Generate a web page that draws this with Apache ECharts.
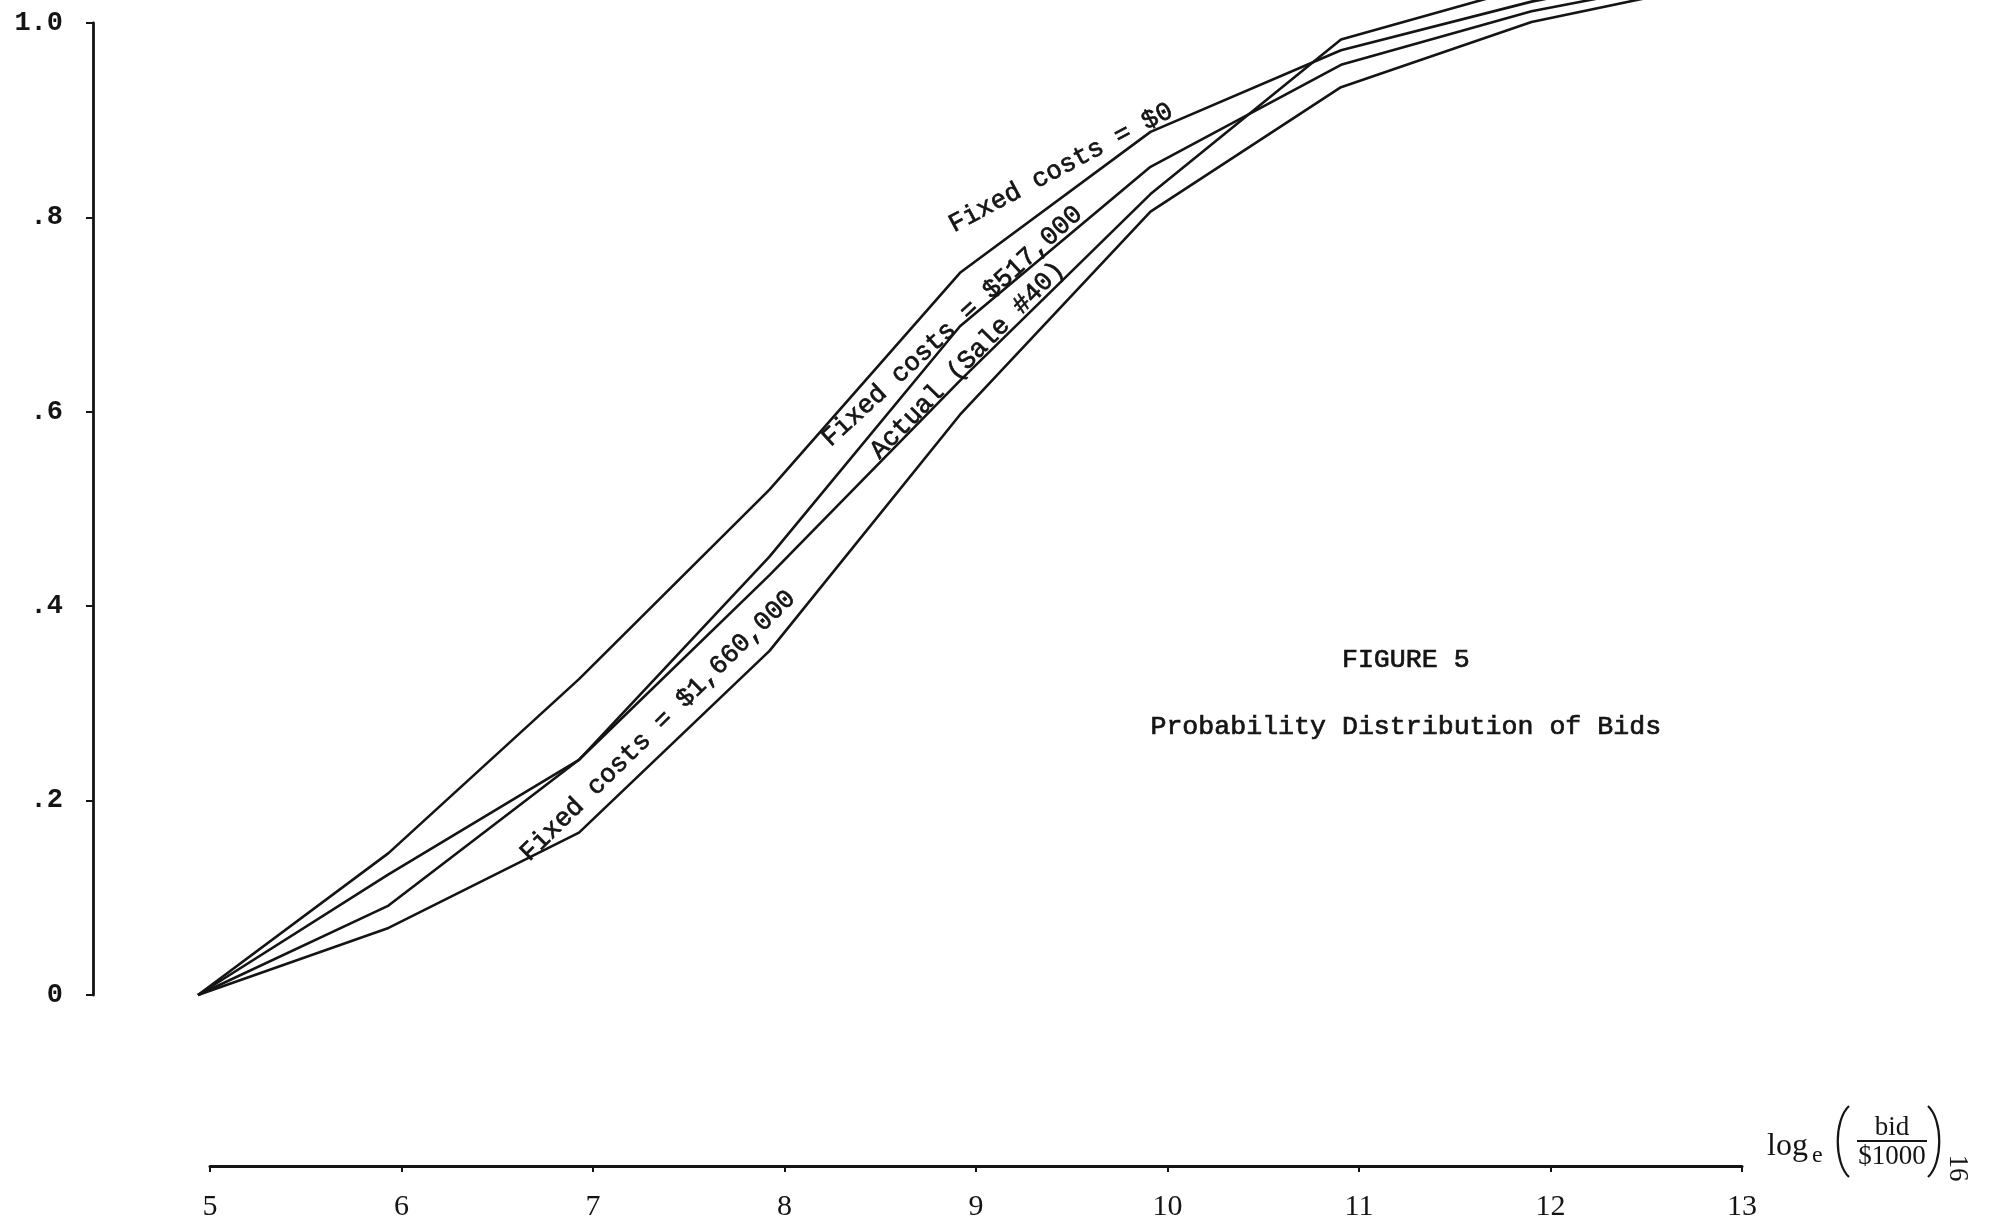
<!DOCTYPE html>
<html>
<head>
<meta charset="utf-8">
<script src="https://cdn.jsdelivr.net/npm/echarts@6/dist/echarts.min.js"></script>
<style>
html,body{margin:0;padding:0;background:#fff;}
#chart{width:1992px;height:1232px;}
</style>
</head>
<body>
<div id="chart"></div>
<script>
// ---- data ----
const xValues = [5, 6, 7, 8, 9, 10, 11, 12, 13];
const xTickLabels = ['5', '6', '7', '8', '9', '10', '11', '12', '13'];
const yTickLabels = ['0', '.2', '.4', '.6', '.8', '1.0'];
const fixedCosts0 = [0, 0.146, 0.325, 0.520, 0.743, 0.888, 0.972, 1.022, 1.060];
const fixedCosts517 = [0, 0.124, 0.242, 0.451, 0.688, 0.852, 0.957, 1.012, 1.050];
const actualSale40 = [0, 0.092, 0.242, 0.432, 0.632, 0.824, 0.983, 1.038, 1.080];
const fixedCosts1660 = [0, 0.069, 0.167, 0.354, 0.597, 0.806, 0.934, 1.001, 1.042];
const curveNames = ['Fixed costs = $0', 'Fixed costs = $517,000', 'Actual (Sale #40)', 'Fixed costs = $1,660,000'];
const titleLines = ['FIGURE 5', 'Probability Distribution of Bids'];

// ---- chart ----
const chart = echarts.init(document.getElementById('chart'));
const ink = '#141414';
const mono = '"Liberation Mono", "DejaVu Sans Mono", monospace';
const serif = '"Liberation Serif", "DejaVu Serif", serif';

function pairs(ys) { return xValues.map((x, i) => [x, ys[i]]); }
function mkSeries(name, ys) {
  return {
    name: name, type: 'line', xAxisIndex: 0, yAxisIndex: 0,
    data: pairs(ys), symbol: 'none', clip: false, silent: true,
    lineStyle: { color: ink, width: 2.6 }
  };
}

chart.setOption({
  backgroundColor: '#ffffff',
  animation: false,
  grid: [
    { left: 198, right: 270, top: 23, bottom: 237 },
    { left: 210, right: 250, top: 1100, bottom: 66 }
  ],
  xAxis: [
    { type: 'value', gridIndex: 0, min: 5, max: 13, show: false },
    {
      type: 'value', gridIndex: 1, min: 5, max: 13, interval: 1,
      axisLine: { show: true, lineStyle: { color: ink, width: 3 } },
      axisTick: { show: true, length: 6, lineStyle: { color: ink, width: 2 } },
      splitLine: { show: false },
      axisLabel: {
        margin: 26, color: ink, fontFamily: serif, fontSize: 30,
        formatter: v => xTickLabels[xValues.indexOf(v)] || ''
      }
    }
  ],
  yAxis: [
    {
      type: 'value', gridIndex: 0, min: 0, max: 1, interval: 0.2, offset: 105,
      axisLine: { show: true, lineStyle: { color: ink, width: 2.8 } },
      axisTick: { show: true, length: 7, lineStyle: { color: ink, width: 2 } },
      splitLine: { show: false },
      axisLabel: {
        margin: 30, color: ink, fontFamily: mono, fontSize: 27, fontWeight: 'bold',
        formatter: v => yTickLabels[Math.round(v * 5)] || ''
      }
    },
    { type: 'value', gridIndex: 1, min: 0, max: 1, show: false }
  ],
  series: [
    mkSeries(curveNames[0], fixedCosts0),
    mkSeries(curveNames[1], fixedCosts517),
    mkSeries(curveNames[2], actualSale40),
    mkSeries(curveNames[3], fixedCosts1660)
  ]
});

// ---- annotations anchored to the data scale ----
const curveLabelAnchors = [
  { x: 9.53, y: 0.851, angle: 28 },
  { x: 8.96, y: 0.688, angle: 42.5 },
  { x: 9.04, y: 0.653, angle: 45.5 },
  { x: 7.415, y: 0.277, angle: 44.5 }
];
const typeStyle = { fill: ink, stroke: ink, lineWidth: 0.7, align: 'center', verticalAlign: 'middle' };
const graphics = [];
curveLabelAnchors.forEach((a, i) => {
  const p = chart.convertToPixel({ xAxisIndex: 0, yAxisIndex: 0 }, [a.x, a.y]);
  graphics.push({
    type: 'text', x: p[0], y: p[1], rotation: a.angle * Math.PI / 180, silent: true,
    style: Object.assign({ text: curveNames[i], font: '26px ' + mono }, typeStyle)
  });
});
// titles
const titleCenterX = chart.convertToPixel({ xAxisIndex: 0, yAxisIndex: 0 }, [11.34, 0])[0];
const t1y = chart.convertToPixel({ xAxisIndex: 0, yAxisIndex: 0 }, [0, 0.345])[1];
const t2y = chart.convertToPixel({ xAxisIndex: 0, yAxisIndex: 0 }, [0, 0.2755])[1];
graphics.push({ type: 'text', x: titleCenterX, y: t1y, silent: true,
  style: Object.assign({ text: titleLines[0], font: '26.6px ' + mono }, typeStyle) });
graphics.push({ type: 'text', x: titleCenterX, y: t2y, silent: true,
  style: Object.assign({ text: titleLines[1], font: '26.6px ' + mono }, typeStyle) });

// x-axis name: log_e( bid / $1000 )
const endPt = chart.convertToPixel({ xAxisIndex: 1, yAxisIndex: 1 }, [13, 0]);
const ex = endPt[0], ey = endPt[1];
graphics.push({ type: 'group', x: ex, y: ey, silent: true, children: [
  { type: 'text', x: 25, y: -19, style: { text: 'log', fill: ink, font: '32px ' + serif, align: 'left', verticalAlign: 'middle' } },
  { type: 'text', x: 70, y: -10, style: { text: 'e', fill: ink, font: '24px ' + serif, align: 'left', verticalAlign: 'middle' } },
  { type: 'bezierCurve', shape: { x1: 107, y1: -60, cpx1: 92, cpy1: -46, cpx2: 92, cpy2: -3, x2: 107, y2: 11 },
    style: { stroke: ink, lineWidth: 2.2, fill: null } },
  { type: 'text', x: 150, y: -38, style: { text: 'bid', fill: ink, font: '27px ' + serif, align: 'center', verticalAlign: 'middle' } },
  { type: 'line', shape: { x1: 115, y1: -25, x2: 185, y2: -25 }, style: { stroke: ink, lineWidth: 2 } },
  { type: 'text', x: 150, y: -9, style: { text: '$1000', fill: ink, font: '27px ' + serif, align: 'center', verticalAlign: 'middle' } },
  { type: 'bezierCurve', shape: { x1: 186, y1: -60, cpx1: 201, cpy1: -46, cpx2: 201, cpy2: -3, x2: 186, y2: 11 },
    style: { stroke: ink, lineWidth: 2.2, fill: null } },
  { type: 'text', x: 215, y: 2, rotation: -Math.PI / 2, style: { text: '16', fill: ink, font: '27px ' + serif, align: 'center', verticalAlign: 'middle' } }
]});

chart.setOption({ graphic: graphics });
</script>
</body>
</html>
